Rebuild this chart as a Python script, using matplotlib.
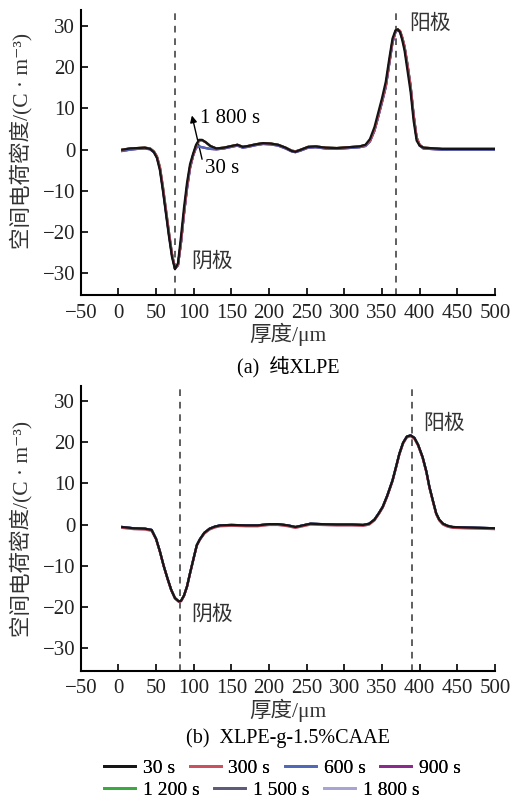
import numpy as np
import matplotlib as mpl
mpl.use('Agg')
import matplotlib.pyplot as plt
from matplotlib.lines import Line2D

plt.rcParams['font.family'] = ['Liberation Serif', 'Noto Sans CJK SC', 'DejaVu Sans']
plt.rcParams['axes.unicode_minus'] = True

# ---- data ----

labels = ['30 s', '300 s', '600 s', '900 s', '1 200 s', '1 500 s', '1 800 s']
colors = ['#151515', '#c9505c', '#5068b8', '#8a2a8a', '#3aaa40', '#5c5c7a', '#a8a4d4']

# (a) pure XLPE
x_top = [5, 15, 25, 35, 42, 47, 51, 55, 59, 63, 67, 71, 75, 79, 83, 87, 91, 95, 99,
         103, 107, 111, 116, 122, 130, 140, 150, 158, 165, 172, 182, 192, 202, 212,
         222, 230, 235, 242, 252, 262, 275, 290, 305, 320, 328, 334, 340, 345, 350,
         355, 360, 364, 368, 371, 374, 377, 380, 384, 388, 392, 396, 400, 405, 430, 470, 500]
y_top_hi = [0.0, 0.3, 0.4, 0.5, 0.2, -0.6, -2.0, -5.0, -10.0, -15.5, -21.0, -26.0, -29.0,
            -27.5, -21.0, -14.0, -8.0, -3.5, -1.0, 1.2, 2.4, 2.4, 1.8, 0.9, 0.3, 0.5, 0.9,
            1.2, 0.7, 0.9, 1.3, 1.6, 1.5, 1.2, 0.5, -0.3, -0.5, 0.0, 0.7, 0.8, 0.5, 0.4,
            0.6, 0.8, 1.2, 2.6, 5.5, 9.0, 12.5, 16.5, 22.5, 27.0, 29.0, 29.2, 28.5, 26.5,
            24.0, 19.0, 14.0, 7.0, 2.2, 1.0, 0.5, 0.2, 0.2, 0.2]
y_top_mid = [0.0, 0.3, 0.4, 0.5, 0.3, -0.4, -1.6, -4.2, -9.0, -14.5, -20.0, -25.2, -28.8,
             -28.0, -22.5, -15.5, -9.0, -4.2, -1.4, 0.9, 2.2, 2.3, 1.8, 0.9, 0.3, 0.5, 0.9,
             1.2, 0.7, 0.9, 1.3, 1.6, 1.5, 1.2, 0.5, -0.2, -0.4, 0.0, 0.7, 0.8, 0.5, 0.4,
             0.6, 0.8, 1.1, 2.2, 4.8, 8.2, 11.8, 15.5, 21.5, 26.3, 28.8, 29.2, 28.8, 27.2,
             25.0, 20.5, 15.5, 8.5, 3.0, 1.2, 0.5, 0.2, 0.2, 0.2]
y_top_lo = [-0.3, 0.0, 0.2, 0.3, 0.1, -0.6, -1.8, -4.5, -9.5, -15.0, -20.5, -25.5, -28.8,
            -28.0, -22.5, -15.5, -9.5, -4.5, -1.5, 0.5, 0.8, 0.6, 0.4, 0.2, 0.1, 0.3, 0.7,
            1.0, 0.5, 0.7, 1.1, 1.4, 1.3, 1.0, 0.3, -0.4, -0.6, -0.2, 0.5, 0.6, 0.3, 0.2,
            0.4, 0.6, 0.9, 2.0, 4.6, 8.0, 11.5, 15.2, 21.2, 26.0, 28.6, 29.0, 28.6, 27.0,
            24.8, 20.2, 15.2, 8.2, 2.8, 1.0, 0.3, 0.0, 0.0, 0.0]

# (b) XLPE-g-1.5%CAAE
x_bot = [5, 20, 35, 44, 50, 55, 60, 65, 70, 75, 80, 83, 87, 91, 95, 100, 104, 108, 114,
         121, 128, 135, 150, 170, 185, 200, 212, 225, 235, 245, 255, 270, 290, 310, 325,
         333, 340, 346, 351, 357, 364, 369, 373, 378, 383, 388, 393, 398, 404, 409, 413,
         418, 422, 426, 431, 437, 444, 460, 480, 500]
y_bot_a = [-0.6, -0.9, -1.0, -1.3, -3.5, -6.5, -10.0, -13.0, -15.8, -17.8, -18.6, -18.5,
           -17.2, -15.0, -11.8, -8.0, -5.0, -3.6, -2.0, -1.0, -0.5, -0.2, -0.1, -0.2, -0.2,
           0.1, 0.1, -0.2, -0.6, -0.2, 0.2, 0.1, 0.0, 0.0, -0.1, 0.2, 1.2, 2.8, 4.3, 7.0,
           10.7, 14.2, 17.1, 19.8, 21.3, 21.6, 21.0, 19.3, 16.3, 12.8, 9.1, 5.5, 2.7, 1.2,
           0.2, -0.3, -0.6, -0.7, -0.8, -0.9]
y_bot_b = [-0.8, -1.1, -1.2, -1.5, -3.6, -6.6, -10.0, -13.1, -15.9, -17.9, -18.7, -18.6,
           -17.3, -15.1, -11.9, -8.1, -5.1, -3.7, -2.2, -1.2, -0.7, -0.4, -0.3, -0.4, -0.4,
           -0.1, -0.1, -0.4, -0.8, -0.4, 0.0, -0.1, -0.2, -0.2, -0.3, 0.0, 1.0, 2.6, 4.1,
           6.8, 10.5, 14.0, 16.9, 19.6, 21.1, 21.4, 20.8, 19.1, 16.1, 12.6, 8.9, 5.3, 2.5,
           1.0, 0.0, -0.5, -0.8, -0.9, -1.0, -1.1]

top_series = [y_top_hi, y_top_mid, y_top_lo, y_top_lo, y_top_mid, y_top_mid, y_top_lo]
bot_series = [y_bot_a, y_bot_b, y_bot_a, y_bot_a, y_bot_a, y_bot_a, y_bot_b]

top_electrodes = [75, 369]
bot_electrodes = [82, 390]

# ---- figure ----

fig = plt.figure(figsize=(5.15, 7.98), dpi=100)
ax1 = fig.add_axes([0.157, 0.630, 0.804, 0.357])
ax2 = fig.add_axes([0.157, 0.159, 0.804, 0.357])

fs = 15


def style_axes(ax, ylim, ylab_y):
    ax.set_xlim(-50, 500)
    ax.set_ylim(*ylim)
    ax.set_xticks(np.arange(-50, 501, 50))
    ax.set_yticks([-30, -20, -10, 0, 10, 20, 30])
    for side in ['top', 'right']:
        ax.spines[side].set_visible(False)
    for side in ['left', 'bottom']:
        ax.spines[side].set_linewidth(1.5)
    ax.tick_params(direction='in', length=5, width=1.2, labelsize=fs, pad=6,
                   labelcolor='#222222')
    ax.tick_params(axis='y', pad=4)
    ax.set_xlabel('厚度/μm', fontsize=fs + 0.5, labelpad=0, color='#333333')
    ax.set_ylabel('空间电荷密度/(C · m⁻³)', fontsize=fs + 0.5, color='#333333')
    ax.yaxis.set_label_coords(-0.118, ylab_y)


def draw_panel(ax, x, series, order, electrodes):
    for k in order:
        ax.plot(x, series[k], color=colors[k], lw=1.6, zorder=2 + order.index(k))
    for e in electrodes:
        ax.axvline(e, color='#444444', lw=1.2, ls=(0, (4, 3.5)), zorder=1)


draw_panel(ax1, x_top, top_series, [6, 5, 4, 3, 2, 1, 0], top_electrodes)
style_axes(ax1, (-35.3, 33.8), 0.54)
ax1.text(96, -27.3, '阴极', fontsize=fs, va='center', ha='left', color='#333333')
ax1.text(386, 30.4, '阳极', fontsize=fs, va='center', ha='left', color='#333333')
ax1.annotate('', xy=(97.5, 8.3), xytext=(111, -2.3),
             arrowprops=dict(arrowstyle='-|>', color='black', lw=1.0,
                             mutation_scale=10, shrinkA=0, shrinkB=0))
ax1.text(108.5, 7.5, '1 800 s', fontsize=fs, va='center', ha='left')
ax1.text(115, -4.6, '30 s', fontsize=fs, va='center', ha='left')
ax1.text(0.5, -0.253, '(a)  纯XLPE', fontsize=fs - 0.5, ha='center', va='center',
         transform=ax1.transAxes)

draw_panel(ax2, x_bot, bot_series, [6, 5, 4, 3, 2, 1, 0], bot_electrodes)
style_axes(ax2, (-35.5, 33.5), 0.5)
ax2.text(96, -21.9, '阴极', fontsize=fs, va='center', ha='left', color='#333333')
ax2.text(405, 24.2, '阳极', fontsize=fs, va='center', ha='left', color='#333333')
ax2.text(0.5, -0.235, '(b)  XLPE-g-1.5%CAAE', fontsize=fs - 0.5, ha='center',
         va='center', transform=ax2.transAxes)

# legend: two independent rows
handles = [Line2D([], [], color=c, lw=2) for c in colors]
rows = [([0, 1, 2, 3], 1 - 768 / 798), ([4, 5, 6], 1 - 790 / 798)]
for idx, ypos in rows:
    leg = fig.legend([handles[i] for i in idx], [labels[i] for i in idx],
                     ncol=len(idx), loc='center left', bbox_to_anchor=(104 / 515, ypos),
                     frameon=False, fontsize=fs - 1, handlelength=1.6,
                     handletextpad=0.4, columnspacing=0.75, borderpad=0,
                     borderaxespad=0)
    fig.add_artist(leg)

fig.savefig('out.png', dpi=100)
